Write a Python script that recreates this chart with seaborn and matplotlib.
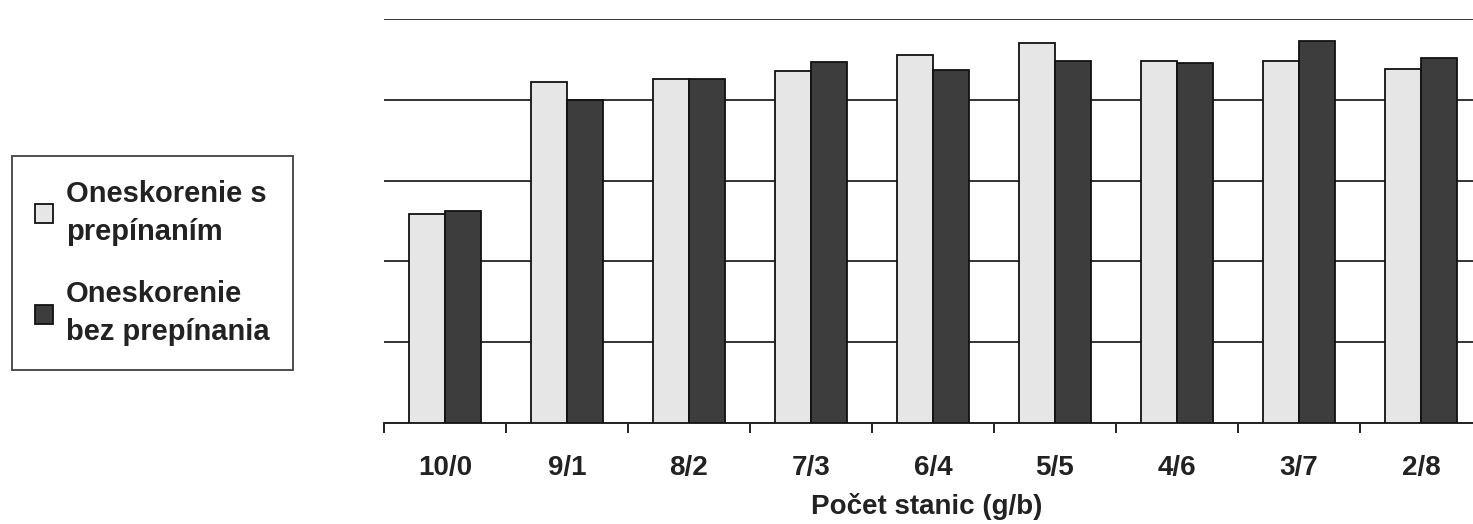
import matplotlib
matplotlib.use("Agg")
import matplotlib.pyplot as plt
import seaborn as sns
import pandas as pd
import numpy as np

categories = ["10/0", "9/1", "8/2", "7/3", "6/4", "5/5", "4/6", "3/7", "2/8"]
series_names = ["Oneskorenie s\nprepínaním", "Oneskorenie\nbez prepínania"]
with_switching = [2.59, 4.22, 4.26, 4.36, 4.55, 4.70, 4.48, 4.48, 4.38]
without_switching = [2.62, 4.00, 4.26, 4.47, 4.37, 4.48, 4.45, 4.73, 4.52]
y_grid = [0, 1, 2, 3, 4, 5]
x_label = "Počet stanic (g/b)"

df = pd.DataFrame({
    "cat": categories * 2,
    "val": with_switching + without_switching,
    "series": [series_names[0]] * len(categories) + [series_names[1]] * len(categories),
})

sns.set_style("white")
plt.rcParams["font.family"] = ["Liberation Sans", "DejaVu Sans"]

fig = plt.figure(figsize=(14.73, 5.24), dpi=100)
ax = fig.add_axes([384 / 1473, 1 - 423 / 524, (1482 - 384) / 1473, (423 - 19) / 524])

sns.barplot(data=df, x="cat", y="val", hue="series", order=categories,
            hue_order=series_names, palette=["#e6e6e6", "#3d3d3d"],
            width=0.59, gap=0, edgecolor="#111111", linewidth=1.3,
            saturation=1, ax=ax, zorder=3)

ax.set_xlim(-0.5, len(categories) - 0.5)
ax.set_ylim(0, 5)
ax.set_yticks(y_grid)
ax.set_yticklabels([])
ax.tick_params(axis="y", length=0)
ax.yaxis.grid(True, color="#333333", linewidth=1.4, zorder=0)
ax.set_axisbelow(True)
ax.xaxis.grid(False)
ax.set_ylabel("")

for s in ["left", "right", "top"]:
    ax.spines[s].set_visible(False)
ax.spines["bottom"].set_color("#222222")
ax.spines["bottom"].set_linewidth(1.4)

ax.set_xticks(np.arange(len(categories)))
ax.set_xticklabels(categories, fontsize=20, fontweight="bold", color="#222222")
ax.tick_params(axis="x", which="major", bottom=True, length=0, pad=23)
ax.set_xticks(np.arange(len(categories) + 1) - 0.5, minor=True)
ax.tick_params(axis="x", which="minor", bottom=True, length=7, width=1.4,
               color="#222222", direction="out")
ax.set_xlabel(x_label, fontsize=20, fontweight="bold", color="#222222")
ax.xaxis.set_label_coords((927 - 384) / (1482 - 384), -(493 - 423) / 404)

handles, labels = ax.get_legend_handles_labels()
ax.get_legend().remove()
leg = fig.legend(handles, labels, loc="center left",
                 bbox_to_anchor=(12 / 1473, 1 - 263 / 524),
                 prop={"size": 21, "weight": "bold"},
                 frameon=True, fancybox=False, edgecolor="#111111",
                 handlelength=0.62, handleheight=0.62, handletextpad=0.42,
                 labelspacing=1.2, borderpad=0.8, borderaxespad=0)
leg.get_frame().set_linewidth(1.3)
for t in leg.get_texts():
    t.set_color("#222222")
    t.set_linespacing(1.45)

fig.savefig("out.png", dpi=100)
